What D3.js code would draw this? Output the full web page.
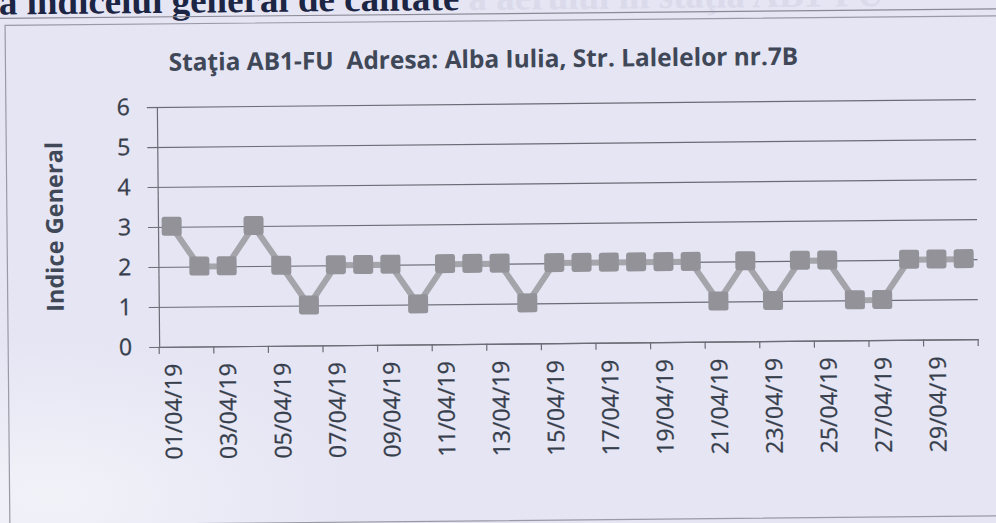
<!DOCTYPE html>
<html><head><meta charset="utf-8">
<script src="https://cdn.jsdelivr.net/npm/d3@7"></script>
<style>html,body{margin:0;padding:0;background:#e5e5f4;overflow:hidden}</style>
</head><body>
<svg id="c" width="996" height="523"></svg>
<script>
const dates = ["01/04/19","02/04/19","03/04/19","04/04/19","05/04/19","06/04/19","07/04/19","08/04/19","09/04/19","10/04/19",
  "11/04/19","12/04/19","13/04/19","14/04/19","15/04/19","16/04/19","17/04/19","18/04/19","19/04/19","20/04/19",
  "21/04/19","22/04/19","23/04/19","24/04/19","25/04/19","26/04/19","27/04/19","28/04/19","29/04/19","30/04/19"];
const values = [3,2,2,3,2,1,2,2,2,1,2,2,2,1,2,2,2,2,2,2,1,2,1,2,2,1,1,2,2,2];
const yTicks = [0,1,2,3,4,5,6];
const xTickLabels = dates.filter((d,i)=>i%2===0);
const chartTitle = "Staţia AB1-FU  Adresa: Alba Iulia, Str. Lalelelor nr.7B";
const yTitle = "Indice General";
const headerCut = "Evoluţi";
const headerDark = "Evoluţia indicelui general de calitate";
const headerFaint = " a aerului în staţia AB1-FU";

const svg = d3.select("#c");
const defs = svg.append("defs");
const rg = defs.append("radialGradient").attr("id","bg").attr("cx","0.05").attr("cy","0.95").attr("r","0.3");
rg.append("stop").attr("offset","0%").attr("stop-color","#f2f2f9");
rg.append("stop").attr("offset","100%").attr("stop-color","#e5e5f4");
svg.append("rect").attr("width",996).attr("height",523).attr("fill","url(#bg)");

const root = svg.append("g").attr("transform","rotate(-0.55,567,223)");
const font = "'Open Sans', sans-serif";
const txt = "#363e4c";

// header (scanned page text, cut at top)
const hdr = root.append("text").attr("y",9).attr("font-family","'Liberation Serif', serif")
  .attr("font-weight","bold").attr("font-size",37).attr("fill","#1c2644");
hdr.append("tspan").text(headerCut);
const cutW = hdr.node().getComputedTextLength();
hdr.text("");
hdr.attr("x",-cutW+1);
hdr.append("tspan").text(headerDark);
hdr.append("tspan").attr("fill","#dadaeb").text(headerFaint);

// frame
root.append("line").attr("x1",-10).attr("x2",1010).attr("y1",13).attr("y2",13).attr("stroke","#8a8a96").attr("stroke-width",1.2);
root.append("rect").attr("x",7).attr("y",20).attr("width",1010).attr("height",500)
  .attr("fill","none").attr("stroke","#9a9aa6").attr("stroke-width",1.2);

const X0 = 158, X1 = 977, Y0 = 343, Y6 = 103;
const x = d3.scaleBand().domain(dates).range([X0, X1]).padding(0);
const y = d3.scaleLinear().domain([0,6]).range([Y0, Y6]);
const bw = x.bandwidth();

// gridlines
root.append("g").attr("transform",`translate(${X0-10},0)`)
  .call(d3.axisRight(y).tickValues(yTicks).tickSize(X1-X0+10).tickFormat(""))
  .call(g=>g.select(".domain").remove())
  .call(g=>g.selectAll("line").attr("stroke","#6c6c76").attr("stroke-width",1.2));

// y axis
root.append("g").attr("transform",`translate(${X0},0)`)
  .call(d3.axisLeft(y).tickValues(yTicks).tickSize(0).tickSizeOuter(0).tickPadding(27).tickFormat(d3.format("d")))
  .call(g=>g.select(".domain").attr("stroke","#6c6c76").attr("stroke-width",1.2))
  .call(g=>g.selectAll("text").attr("font-family",font).attr("font-size",23).attr("fill",txt)
      .attr("stroke",txt).attr("stroke-width",0.3));

// x axis
const xa = root.append("g").attr("transform",`translate(0,${Y0})`)
  .call(d3.axisBottom(x).tickValues(xTickLabels).tickSize(7).tickSizeOuter(0))
  .call(g=>g.select(".domain").attr("stroke","#6c6c76").attr("stroke-width",1.2))
  .call(g=>g.selectAll(".tick line").attr("x1",-bw/2).attr("x2",-bw/2).attr("stroke","#6c6c76").attr("stroke-width",1.2))
  .call(g=>g.selectAll(".tick text").attr("font-family",font).attr("font-size",23).attr("fill",txt)
      .attr("stroke",txt).attr("stroke-width",0.3)
      .attr("transform","rotate(-90)").attr("x",-17).attr("y",0).attr("dy","0.36em").style("text-anchor","end"));
xa.append("line").attr("x1",X1).attr("x2",X1).attr("y1",0).attr("y2",7).attr("stroke","#6c6c76").attr("stroke-width",1.2);

// line + markers
const pts = dates.map((d,i)=>({d, v: values[i]}));
root.append("path").datum(pts)
  .attr("d", d3.line().x(p=>x(p.d)+bw/2).y(p=>y(p.v)))
  .attr("fill","none").attr("stroke","#a4a4aa").attr("stroke-width",6).attr("stroke-linejoin","round");
const ms = 20;
root.append("g").selectAll("rect").data(pts).join("rect")
  .attr("x",p=>x(p.d)+bw/2-ms/2).attr("y",p=>y(p.v)-ms/2)
  .attr("width",ms).attr("height",ms-1).attr("rx",2.5)
  .attr("fill","#929298");

// title
const t = root.append("text").attr("x",485).attr("y",67).attr("text-anchor","middle")
  .attr("font-family",font).attr("font-weight","bold").attr("font-size",21).attr("fill","#404858")
  .style("white-space","pre").text(chartTitle);
const tw = t.node().getComputedTextLength();
t.attr("font-size", 21*630/tw);

// y title
const yt = root.append("text").attr("transform","translate(63,222) rotate(-90)").attr("text-anchor","middle")
  .attr("font-family",font).attr("font-weight","bold").attr("font-size",22).attr("fill","#404858").text(yTitle);
const yw = yt.node().getComputedTextLength();
yt.attr("font-size", 22*170/yw);
</script>
</body></html>
